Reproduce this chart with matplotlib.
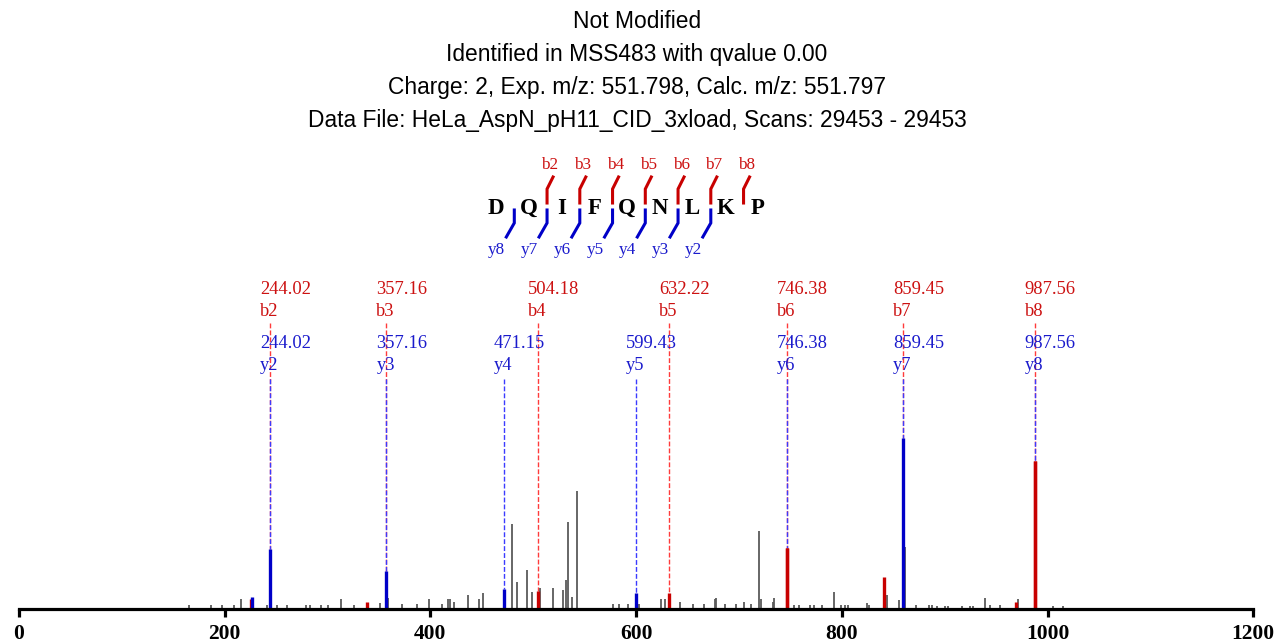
import matplotlib
matplotlib.use('Agg')
import matplotlib.pyplot as plt

# ---------------- data ----------------
title_lines = [
    "Not Modified",
    "Identified in MSS483 with qvalue 0.00",
    "Charge: 2, Exp. m/z: 551.798, Calc. m/z: 551.797",
    "Data File: HeLa_AspN_pH11_CID_3xload, Scans: 29453 - 29453",
]
sequence = "DQIFQNLKP"
b_ion_numbers = [2, 3, 4, 5, 6, 7, 8]
y_ion_numbers = [8, 7, 6, 5, 4, 3, 2]

b_labels = ["b2", "b3", "b4", "b5", "b6", "b7", "b8"]
b_mz = [244.02, 357.16, 504.18, 632.22, 746.38, 859.45, 987.56]
y_labels = ["y2", "y3", "y4", "y5", "y6", "y7", "y8"]
y_mz = [244.02, 357.16, 471.15, 599.43, 746.38, 859.45, 987.56]

# matched peaks drawn in colour (relative intensity, %)
red_mz = [225.6, 338.7, 504.18, 632.22, 746.38, 841.2, 969.3, 987.56]
red_int = [5.3, 4.1, 10.5, 8.8, 35.7, 18.7, 3.7, 86.5]
blue_mz = [226.9, 244.02, 357.16, 471.15, 599.43, 859.45]
blue_int = [7.0, 35.1, 22.2, 11.7, 8.8, 100.0]

# unmatched peaks (relative intensity, %)
gray_mz = [165.3, 186.7, 197.0, 209.0, 215.6, 240.9, 250.6, 261.0, 279.0, 283.0,
           293.7, 300.0, 312.8, 325.8, 351.0, 359.2, 372.2, 386.7, 399.0, 411.0,
           417.5, 419.0, 423.3, 436.3, 447.3, 450.9, 479.7, 484.0, 493.7, 498.9,
           506.7, 519.6, 528.7, 532.0, 533.9, 537.5, 542.3, 577.3, 583.5, 592.0,
           603.0, 624.0, 628.2, 633.0, 642.8, 655.0, 666.4, 676.2, 677.8, 685.9,
           697.0, 705.0, 711.6, 719.6, 721.3, 732.6, 734.2, 747.2, 753.7, 758.5,
           769.2, 772.5, 780.6, 792.0, 799.4, 802.7, 806.0, 824.3, 826.0, 843.8,
           855.8, 861.0, 872.0, 884.3, 888.0, 892.4, 900.5, 902.8, 916.7, 924.8,
           927.4, 939.4, 943.6, 953.3, 970.8, 989.0, 1005.2, 1014.9]
gray_int = [2.3, 2.3, 2.3, 2.3, 5.3, 2.3, 2.3, 2.3, 2.3, 2.3,
            2.3, 2.3, 5.3, 2.3, 3.5, 6.4, 2.9, 2.9, 5.3, 2.9,
            5.3, 5.3, 4.1, 8.2, 5.3, 8.8, 49.7, 15.8, 22.8, 9.9,
            12.3, 12.3, 11.1, 17.0, 50.9, 7.0, 69.0, 2.9, 2.9, 2.9,
            2.9, 5.3, 5.3, 4.1, 4.1, 2.9, 2.9, 5.3, 6.4, 2.9,
            2.9, 4.1, 2.9, 45.6, 5.3, 4.1, 6.4, 14.0, 1.8, 1.8,
            1.8, 1.8, 1.8, 9.4, 1.8, 1.8, 1.8, 3.5, 2.3, 8.2,
            4.7, 36.3, 1.8, 1.8, 1.8, 1.2, 1.2, 1.2, 1.2, 1.2,
            1.2, 6.4, 2.3, 1.8, 5.3, 45.6, 1.2, 1.2]

x_ticks = [0, 200, 400, 600, 800, 1000, 1200]

# ---------------- style ----------------
RED = "#c80000"
BLUE = "#0000c8"
RED_TXT = "#cc1111"
BLUE_TXT = "#1a1acc"
RED_DASH = "#ff3b3b"
BLUE_DASH = "#3b3bff"
GRAY = "#5a5a5a"
SANS = ["Liberation Sans", "DejaVu Sans"]
SERIF = ["Liberation Serif", "DejaVu Serif"]

W, H = 1274, 643
fig = plt.figure(figsize=(W / 100, H / 100), dpi=100)

X0_PX, X1_PX = 19.0, 1253.3
BASE_PX, TOP_PX = 608.5, 150.0
YMAX = (BASE_PX - TOP_PX) / 170.5 * 100.0

ax = fig.add_axes([X0_PX / W, 1 - BASE_PX / H, (X1_PX - X0_PX) / W, (BASE_PX - TOP_PX) / H])
ax.set_xlim(x_ticks[0], x_ticks[-1])
ax.set_ylim(0, YMAX)
ax.patch.set_alpha(0)


def py2data(py):
    return (BASE_PX - py) / (BASE_PX - TOP_PX) * YMAX


def fx(px):
    return px / W


def fy(py):
    return 1 - py / H


# title
for i, line in enumerate(title_lines):
    fig.text(0.5, fy(21.5 + 33 * i), line, ha="center", va="center",
             fontsize=16.4, family=SANS, color="black")

# peptide sequence
LET_X0, LET_STEP, LET_Y = 496.0, 32.75, 208.5
CLV_OFF = 18.3
for i, aa in enumerate(sequence):
    fig.text(fx(LET_X0 + LET_STEP * i), fy(LET_Y), aa, ha="center", va="center",
             fontsize=16.5, fontweight="bold", family=SERIF, color="black")

for k, lab in zip(b_ion_numbers, b_labels):
    cx = LET_X0 + LET_STEP * (k - 1) + CLV_OFF
    fig.add_artist(plt.Line2D([fx(cx), fx(cx), fx(cx + 6)], [fy(203), fy(189), fy(177)],
                              transform=fig.transFigure, color=RED, lw=2.2,
                              solid_joinstyle="miter"))
    fig.text(fx(cx + 3), fy(165), lab, ha="center", va="center", fontsize=12.3,
             family=SERIF, color=RED_TXT)

for k, n in enumerate(y_ion_numbers):
    cx = LET_X0 + LET_STEP * k + CLV_OFF
    fig.add_artist(plt.Line2D([fx(cx), fx(cx), fx(cx - 8)], [fy(210), fy(223), fy(237)],
                              transform=fig.transFigure, color=BLUE, lw=2.2,
                              solid_joinstyle="miter"))
    fig.text(fx(cx - 17.5), fy(250), "y%d" % n, ha="center", va="center", fontsize=12.3,
             family=SERIF, color=BLUE_TXT)

# annotation dashed lines
def peak_top(mz):
    best = 0.0
    for m, v in zip(red_mz + blue_mz, red_int + blue_int):
        if abs(m - mz) < 0.05:
            best = max(best, v)
    return best

for mz in b_mz:
    ax.plot([mz, mz], [py2data(323), peak_top(mz)], color=RED_DASH, lw=1.0,
            ls=(0, (3.5, 1.5)), zorder=1)
for mz in y_mz:
    ax.plot([mz, mz], [py2data(379), peak_top(mz)], color=BLUE_DASH, lw=1.0,
            ls=(0, (3.5, 1.5)), zorder=1)

# peaks
ax.vlines(gray_mz, 0, gray_int, color=GRAY, lw=1.3, zorder=2)
ax.vlines(red_mz, 0, red_int, color=RED, lw=2.4, zorder=3)
ax.vlines(blue_mz, 0, blue_int, color=BLUE, lw=2.4, zorder=3)
# re-draw red matched peaks that sit on top in the reference
ax.vlines([746.38, 987.56], 0, [35.7, 86.5], color=RED, lw=2.4, zorder=4)

# peak labels
OFF_PT = -10 * 0.72
LAB_FS = 13.3
for mz, lab in zip(b_mz, b_labels):
    ax.annotate("%.2f" % mz, xy=(mz, py2data(290)), xytext=(OFF_PT, 0),
                textcoords="offset points", ha="left", va="center", fontsize=LAB_FS,
                family=SERIF, color=RED_TXT, annotation_clip=False)
    ax.annotate(lab, xy=(mz, py2data(311)), xytext=(OFF_PT, 0),
                textcoords="offset points", ha="left", va="center", fontsize=LAB_FS,
                family=SERIF, color=RED_TXT, annotation_clip=False)
for mz, lab in zip(y_mz, y_labels):
    ax.annotate("%.2f" % mz, xy=(mz, py2data(343)), xytext=(OFF_PT, 0),
                textcoords="offset points", ha="left", va="center", fontsize=LAB_FS,
                family=SERIF, color=BLUE_TXT, annotation_clip=False)
    ax.annotate(lab, xy=(mz, py2data(365)), xytext=(OFF_PT, 0),
                textcoords="offset points", ha="left", va="center", fontsize=LAB_FS,
                family=SERIF, color=BLUE_TXT, annotation_clip=False)

# axes styling
for s in ["top", "right", "left"]:
    ax.spines[s].set_visible(False)
ax.spines["bottom"].set_linewidth(2.3)
ax.spines["bottom"].set_zorder(5)
ax.set_yticks([])
ax.set_xticks(x_ticks)
ax.set_xticklabels([str(t) for t in x_ticks])
ax.tick_params(axis="x", length=6, width=2.3, pad=5, direction="out")
for t in ax.get_xticklabels():
    t.set_fontfamily(SERIF)
    t.set_fontweight("bold")
    t.set_fontsize(15.5)

fig.savefig("out.png", dpi=100)
